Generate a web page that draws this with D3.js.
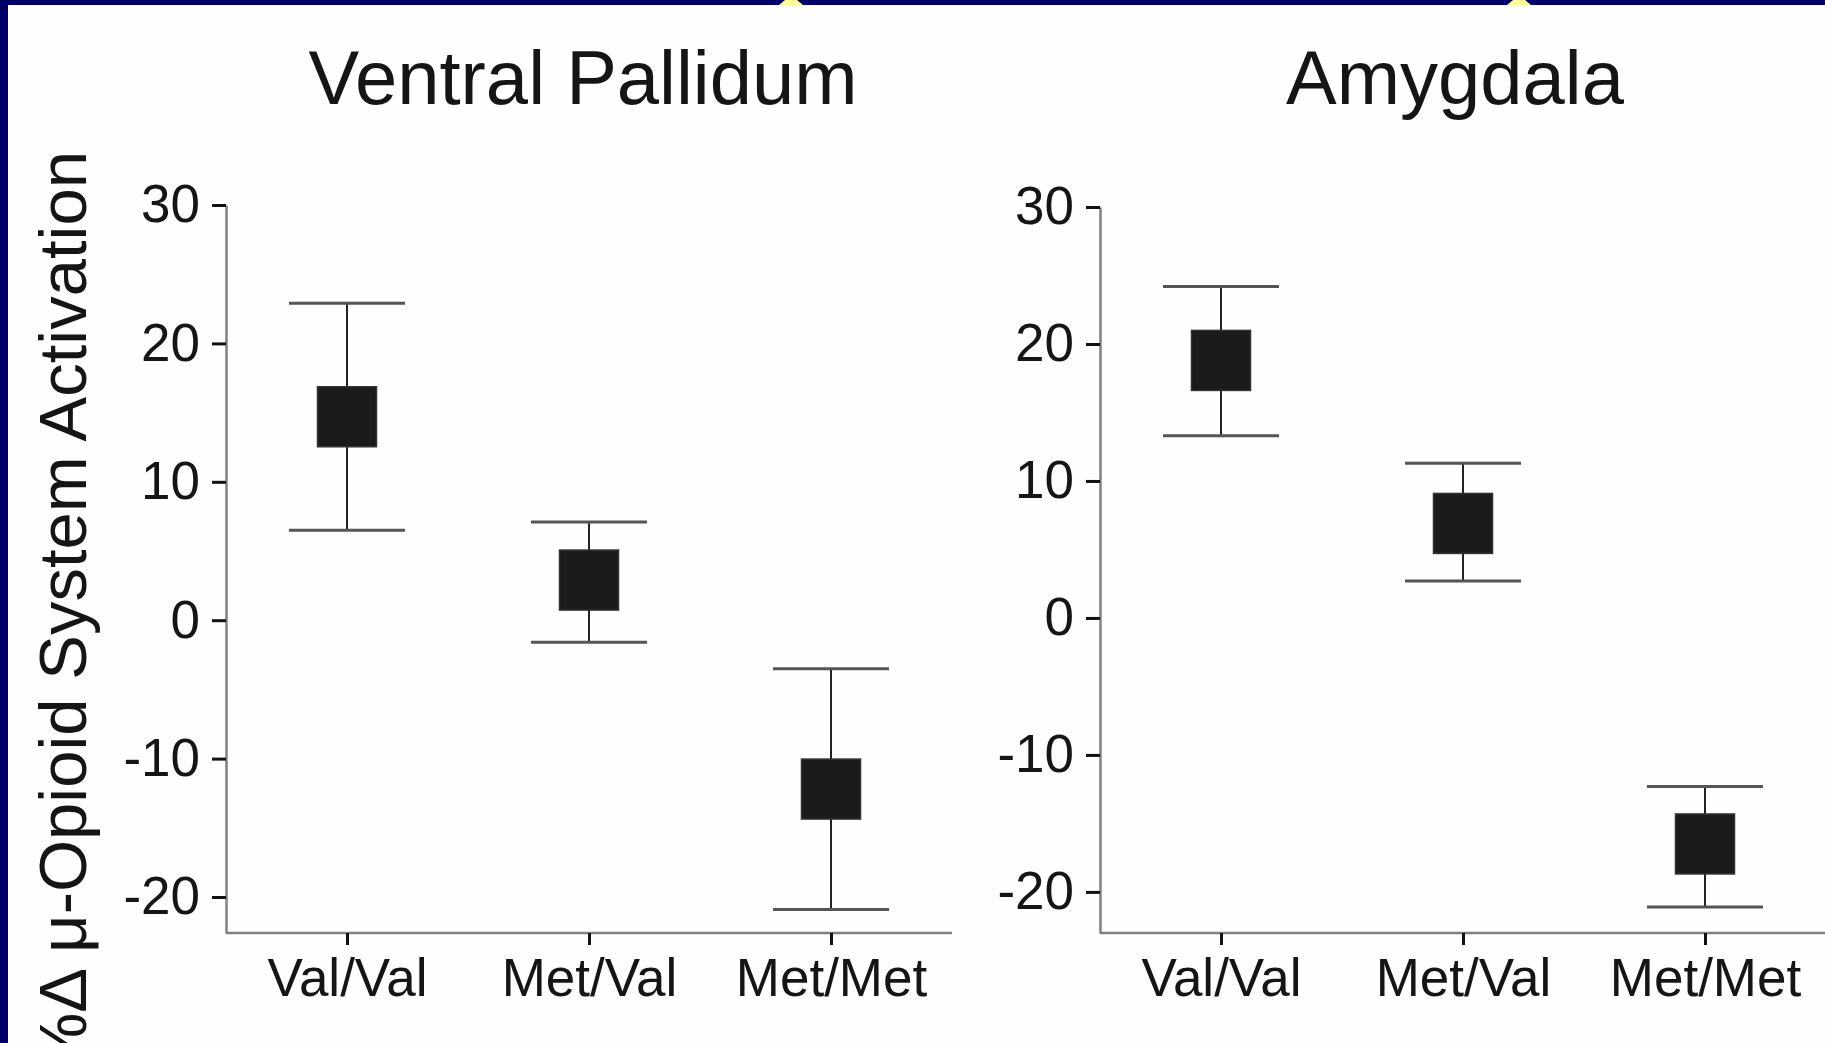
<!DOCTYPE html>
<html>
<head>
<meta charset="utf-8">
<script src="https://cdn.jsdelivr.net/npm/d3@7"></script>
<style>
  html, body { margin: 0; padding: 0; background: #fefefe; overflow: hidden; }
  svg { display: block; }
  text { font-family: "Liberation Sans", Arial, Helvetica, sans-serif; fill: #151515; }
</style>
</head>
<body>
<svg id="chart" width="1825" height="1043"></svg>
<script>
// ---- data ----
const genotypes = ["Val/Val", "Met/Val", "Met/Met"];
const panelTitles = ["Ventral Pallidum", "Amygdala"];
const yTicks = [-20, -10, 0, 10, 20, 30];

const vpMean  = [14.7, 2.9, -12.2];
const vpUpper = [22.9, 7.1, -3.5];
const vpLower = [6.5, -1.6, -20.9];

const amMean  = [18.8, 6.9, -16.5];
const amUpper = [24.2, 11.3, -12.3];
const amLower = [13.3, 2.7, -21.1];

const yAxisTitle = "%\u0394 \u03bc-Opioid System Activation";

// ---- drawing ----
const svg = d3.select("#chart");
svg.append("rect").attr("x", 0).attr("y", 0).attr("width", 1825).attr("height", 1043).attr("fill", "#fefefe");

// navy frame (top and left) with small yellow marks
svg.append("rect").attr("x", 0).attr("y", 0).attr("width", 1825).attr("height", 5).attr("fill", "#000066");
svg.append("rect").attr("x", 0).attr("y", 0).attr("width", 8).attr("height", 1043).attr("fill", "#000066");
[791, 1519].forEach(cx => {
  svg.append("path")
    .attr("d", `M${cx - 12},5 L${cx + 12},5 L${cx + 6},0 L${cx - 6},0 Z`)
    .attr("fill", "#ffff99");
});

const panels = [
  { title: panelTitles[0], titleX: 583, xr: [226, 952], yDomain: [-22.6, 30], yTop: 205,
    mean: vpMean, upper: vpUpper, lower: vpLower },
  { title: panelTitles[1], titleX: 1455, xr: [1100, 1826], yDomain: [-23.0, 30], yTop: 207,
    mean: amMean, upper: amUpper, lower: amLower }
];
const axisY = 933;

panels.forEach(p => {
  const x = d3.scalePoint().domain(genotypes).range(p.xr).padding(0.5);
  const y = d3.scaleLinear().domain(p.yDomain).range([axisY, p.yTop]);

  // title
  svg.append("text")
    .attr("x", p.titleX).attr("y", 104)
    .attr("text-anchor", "middle")
    .style("font-size", "76px")
    .text(p.title);

  // y axis
  const ya = svg.append("g")
    .attr("transform", `translate(${p.xr[0]},0)`)
    .call(d3.axisLeft(y).tickValues(yTicks).tickFormat(d => String(d))
      .tickSize(14).tickSizeOuter(0).tickPadding(12));
  ya.select(".domain").attr("stroke", "#808080").attr("stroke-width", 2.5);
  ya.selectAll(".tick line").attr("stroke", "#111").attr("stroke-width", 3);
  ya.selectAll(".tick text").style("font-size", "53px").attr("fill", "#151515")
    .style("font-family", '"Liberation Sans", Arial, sans-serif');

  // x axis
  const xa = svg.append("g")
    .attr("transform", `translate(0,${axisY})`)
    .call(d3.axisBottom(x).tickSize(12).tickSizeOuter(0));
  xa.select(".domain").attr("stroke", "#808080").attr("stroke-width", 2.5)
    .attr("d", `M${p.xr[0]},0H${p.xr[1]}`);
  xa.selectAll(".tick line").attr("stroke", "#111").attr("stroke-width", 3);
  xa.selectAll(".tick text").style("font-size", "53px").attr("fill", "#151515")
    .style("font-family", '"Liberation Sans", Arial, sans-serif')
    .attr("y", 63).attr("dy", null);

  // error bars + markers
  const rows = genotypes.map((g, i) => ({ g, m: p.mean[i], hi: p.upper[i], lo: p.lower[i] }));
  const capW = 116, boxW = 59, boxH = 60;
  const grp = svg.append("g");
  grp.selectAll("line.whisker").data(rows).join("line")
    .attr("class", "whisker")
    .attr("x1", d => x(d.g)).attr("x2", d => x(d.g))
    .attr("y1", d => y(d.hi)).attr("y2", d => y(d.lo))
    .attr("stroke", "#222").attr("stroke-width", 2);
  ["hi", "lo"].forEach(k => {
    grp.selectAll("line.cap-" + k).data(rows).join("line")
      .attr("class", "cap-" + k)
      .attr("x1", d => x(d.g) - capW / 2).attr("x2", d => x(d.g) + capW / 2)
      .attr("y1", d => y(d[k])).attr("y2", d => y(d[k]))
      .attr("stroke", "#555").attr("stroke-width", 3);
  });
  grp.selectAll("rect.mark").data(rows).join("rect")
    .attr("class", "mark")
    .attr("x", d => x(d.g) - boxW / 2).attr("y", d => y(d.m) - boxH / 2)
    .attr("width", boxW).attr("height", boxH)
    .attr("fill", "#1b1b1b").attr("stroke", "#333").attr("stroke-width", 1.5);
});

// y axis title (rotated, partly cut off at the bottom)
svg.append("text")
  .attr("transform", "translate(86,151) rotate(-90)")
  .attr("text-anchor", "end")
  .style("font-size", "67px")
  .text(yAxisTitle);
</script>
</body>
</html>
